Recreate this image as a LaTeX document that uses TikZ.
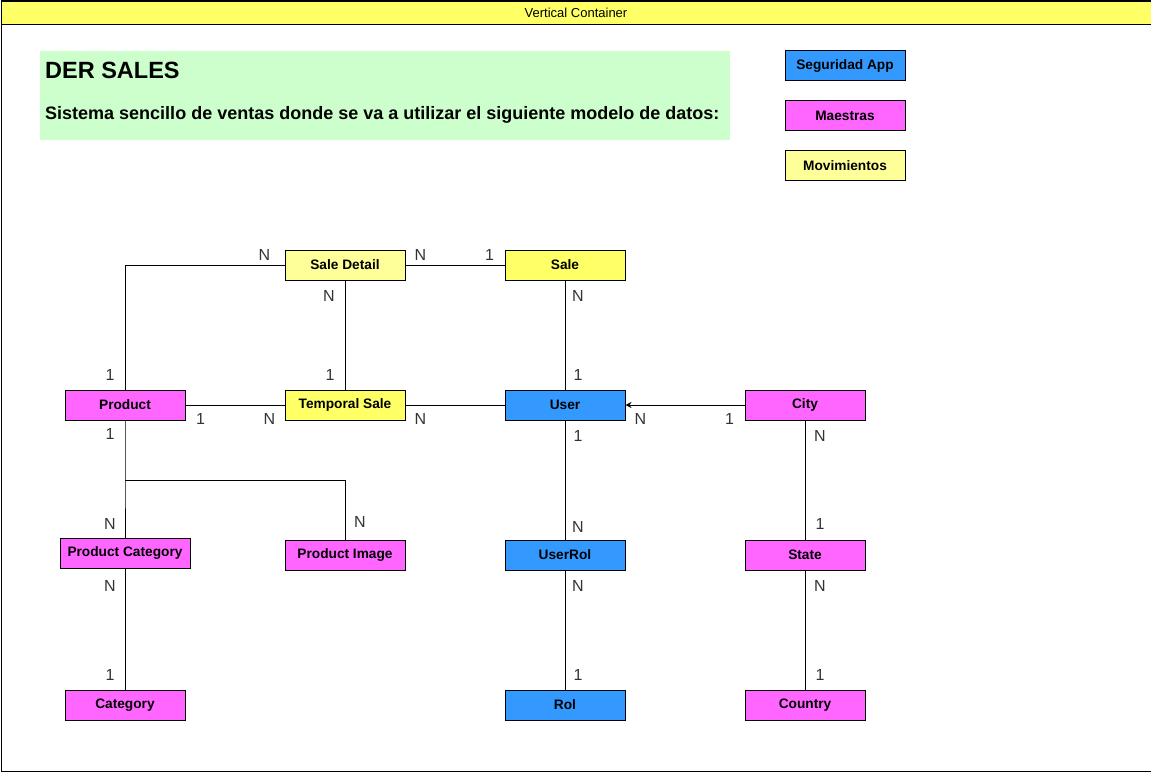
\documentclass[tikz,border=0pt]{standalone}
\usepackage{fontspec}
\setmainfont{Liberation Sans}
\usepackage{tikz}
\usetikzlibrary{positioning, arrows.meta}

\definecolor{segColor}{HTML}{3399FF}
\definecolor{maeColor}{HTML}{FF66FF}
\definecolor{movColor}{HTML}{FFFF99}
\definecolor{saleColor}{HTML}{FFFF66}
\definecolor{infoColor}{HTML}{CCFFCC}

\tikzset{
  entity/.style={draw, line width=1pt, minimum width=120pt, minimum height=30pt, inner sep=0pt, font=\fontsize{13.7}{16}\selectfont\bfseries},
  seguridad/.style={entity, fill=segColor},
  maestra/.style={entity, fill=maeColor},
  movim/.style={entity, fill=movColor},
  movimB/.style={entity, fill=saleColor},
  card/.style={font=\fontsize{16}{18}\selectfont, text=black!80, inner sep=0pt},
  rel/.style={line width=1pt},
}

\begin{document}
\begin{tikzpicture}[x=1pt, y=-1pt, on grid, node distance=140pt and 220pt]
  \useasboundingbox (0,0) rectangle (1151,771);
  \node[draw, line width=1pt, minimum width=1150pt, minimum height=770pt, inner sep=0pt, anchor=north west] (frame) at (0.5,0.5) {};
  \node[draw, line width=1pt, fill=saleColor, minimum width=1150pt, minimum height=23pt, inner sep=0pt, anchor=north west, font=\fontsize{13}{15}\selectfont] (bar) at (0.5,0.5) {Vertical Container};

  % header
  \node[fill=infoColor, minimum width=690pt, minimum height=89pt, inner sep=0pt, anchor=north west] (info) at (40,51) {};
  \node[anchor=west, inner sep=0pt, font=\fontsize{23.5}{27}\selectfont\bfseries] (title) at (45,70) {DER SALES};
  \node[anchor=west, inner sep=0pt, font=\fontsize{18}{21}\selectfont\bfseries] (subtitle) at (45,115) {Sistema sencillo de ventas donde se va a utilizar el siguiente modelo de datos:};

  % legend
  \node[seguridad] (legSeg) at (845,65.5) {Seguridad App};
  \node[maestra] (legMae) [below=50pt of legSeg] {Maestras};
  \node[movim] (legMov) [below=50pt of legMae] {Movimientos};

  % entities
  \node[movim] (sdetail) at (345,265) {Sale Detail};
  \node[movimB] (sale) [right=of sdetail] {Sale};
  \node[maestra] (product) at (125,405) {Product};
  \node[movimB] (tsale) [right=of product] {Temporal Sale};
  \node[seguridad] (user) [right=of tsale] {User};
  \node[maestra] (city) [right=240pt of user] {City};
  \node[maestra, minimum width=130pt] (pcat) at (125,553) {Product Category};
  \node[maestra] (pimage) at (345,555) {Product Image};
  \node[seguridad] (userrol) [below=150pt of user] {UserRol};
  \node[maestra] (state) [below=150pt of city] {State};
  \node[maestra] (category) at (125,705) {Category};
  \node[seguridad] (rol) [below=150pt of userrol] {Rol};
  \node[maestra] (country) [below=150pt of state] {Country};
  \coordinate (pbranch) at (125,480);

  % relations
  \draw[rel] (sdetail) -- (sale);
  \draw[rel] (sdetail) -| (product);
  \draw[rel] (sdetail) -- (tsale);
  \draw[rel] (sale) -- (user);
  \draw[rel] (product) -- (tsale);
  \draw[rel] (tsale) -- (user);
  \draw[rel, -{Stealth[length=6pt, width=6pt]}] (city) -- (user);
  \draw[rel] (user) -- (userrol);
  \draw[rel] (userrol) -- (rol);
  \draw[rel] (city) -- (state);
  \draw[rel] (state) -- (country);
  \draw[rel] (product) -- (pbranch) -- (pcat);
  \draw[rel] (pbranch) -| (pimage);
  \draw[rel] (pcat) -- (category);

  % cardinalities
  \node[card, above right=10pt and 15pt of sdetail.east, anchor=center] (cSdSale) {N};
  \node[card, above left=10pt and 15pt of sale.west, anchor=center] (cSaleSd) {1};
  \node[card, above left=10pt and 20pt of sdetail.west, anchor=center] (cSdProd) {N};
  \node[card, above left=15pt and 15pt of product.north, anchor=center] (cProdSd) {1};
  \node[card, below left=15pt and 16pt of sdetail.south, anchor=center] (cSdTs) {N};
  \node[card, above left=15pt and 15pt of tsale.north, anchor=center] (cTsSd) {1};
  \node[card, below right=15pt and 13pt of sale.south, anchor=center] (cSaleUser) {N};
  \node[card, above right=15pt and 13pt of user.north, anchor=center] (cUserSale) {1};
  \node[card, below right=13.5pt and 15pt of product.east, anchor=center] (cProdTs) {1};
  \node[card, below left=13.5pt and 15pt of tsale.west, anchor=center] (cTsProd) {N};
  \node[card, below right=13.5pt and 15pt of tsale.east, anchor=center] (cTsUser) {N};
  \node[card, below right=13.5pt and 15pt of user.east, anchor=center] (cUserCity) {N};
  \node[card, below left=13.5pt and 15pt of city.west, anchor=center] (cCityUser) {1};
  \node[card, below left=13.5pt and 15pt of product.south, anchor=center] (cProdCat) {1};
  \node[card, above left=14pt and 15pt of pcat.north, anchor=center] (cPcatProd) {N};
  \node[card, above right=18pt and 15pt of pimage.north, anchor=center] (cPimgProd) {N};
  \node[card, below left=17pt and 15pt of pcat.south, anchor=center] (cPcatCat) {N};
  \node[card, above left=15pt and 15pt of category.north, anchor=center] (cCatPcat) {1};
  \node[card, below right=15pt and 13pt of user.south, anchor=center] (cUserUr) {1};
  \node[card, above right=13pt and 13pt of userrol.north, anchor=center] (cUrUser) {N};
  \node[card, below right=15pt and 13pt of userrol.south, anchor=center] (cUrRol) {N};
  \node[card, above right=15pt and 13pt of rol.north, anchor=center] (cRolUr) {1};
  \node[card, below right=15pt and 15pt of city.south, anchor=center] (cCityState) {N};
  \node[card, above right=16pt and 15pt of state.north, anchor=center] (cStateCity) {1};
  \node[card, below right=15pt and 15pt of state.south, anchor=center] (cStateCountry) {N};
  \node[card, above right=15pt and 15pt of country.north, anchor=center] (cCountryState) {1};
\end{tikzpicture}
\end{document}
